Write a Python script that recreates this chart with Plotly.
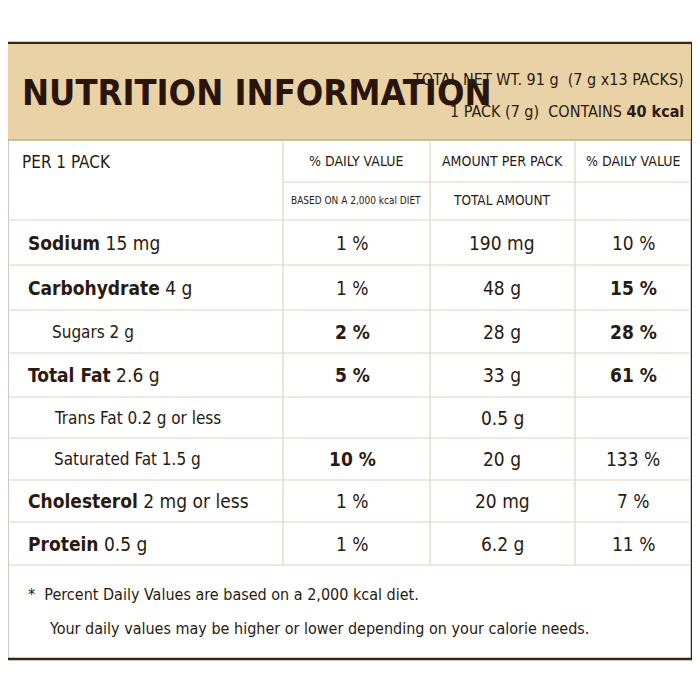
import plotly.graph_objects as go

nutrients = ["Sodium", "Carbohydrate", "Sugars", "Total Fat", "Trans Fat", "Saturated Fat", "Cholesterol", "Protein"]
per_pack = ["15 mg", "4 g", "2 g", "2.6 g", "0.2 g or less", "1.5 g", "2 mg or less", "0.5 g"]
is_main = [True, True, False, True, False, False, True, True]
dv_pack = ["1 %", "1 %", "2 %", "5 %", "", "10 %", "1 %", "1 %"]
total_amount = ["190 mg", "48 g", "28 g", "33 g", "0.5 g", "20 g", "20 mg", "6.2 g"]
dv_total = ["10 %", "15 %", "28 %", "61 %", "", "133 %", "7 %", "11 %"]
dv_pack_bold = [False, False, True, True, False, True, False, False]
dv_total_bold = [False, True, True, True, False, False, False, False]

FONT = "DejaVu Sans Condensed, Liberation Sans Narrow, sans-serif"
DARK = "#2a1a10"
LINE = "#e3d3bc"
BORDER = "#3b2414"

fig = go.Figure()
shapes = []
ann = []

def A(x, y, t, size, xanchor="center", bold=False, color=DARK):
    if bold:
        t = "<b>" + t + "</b>"
    ann.append(dict(x=x, y=y, text=t, showarrow=False, xanchor=xanchor, yanchor="middle",
                    font=dict(family=FONT, size=size, color=color)))

shapes.append(dict(type="rect", x0=7, x1=692, y0=43, y1=659, line=dict(color=BORDER, width=2.5), fillcolor="white", layer="below"))
shapes.append(dict(type="rect", x0=8, x1=691, y0=44, y1=140, line=dict(width=0), fillcolor="#e9d3a6", layer="below"))
shapes.append(dict(type="line", x0=8, x1=691, y0=140, y1=140, line=dict(color="#c9a878", width=1.5)))
A(20, 92, "NUTRITION INFORMATION", 36, "left", True, "#2b140a")
A(686, 79, "TOTAL NET WT. 91 g  (7 g x13 PACKS)", 16, "right")
A(686, 111, "1 PACK (7 g)  CONTAINS <b>40 kcal</b>", 16, "right")

cols = [283, 430, 575]
row_tops = [220, 265, 310, 353, 397, 438, 480, 522, 565]
for c in cols:
    shapes.append(dict(type="line", x0=c, x1=c, y0=140, y1=565, line=dict(color=LINE, width=1.2)))
shapes.append(dict(type="line", x0=283, x1=691, y0=182, y1=182, line=dict(color=LINE, width=1.2)))
for y in row_tops:
    shapes.append(dict(type="line", x0=8, x1=691, y0=y, y1=y, line=dict(color=LINE, width=1.2)))

A(20, 162, "PER 1 PACK", 17, "left")
A(356, 161, "% DAILY VALUE", 14)
A(356, 200, "BASED ON A 2,000 kcal DIET", 10)
A(502, 161, "AMOUNT PER PACK", 14)
A(502, 200, "TOTAL AMOUNT", 13.5)
A(633, 161, "% DAILY VALUE", 14)

for i, n in enumerate(nutrients):
    yc = (row_tops[i] + row_tops[i + 1]) / 2
    if is_main[i]:
        A(26, yc, "<b>" + n + "</b> " + per_pack[i], 19, "left")
    else:
        A(50 if n == "Sugars" else 52, yc, n + " " + per_pack[i], 17, "left")
    A(352, yc, dv_pack[i], 19, bold=dv_pack_bold[i])
    A(502, yc, total_amount[i], 19)
    A(633, yc, dv_total[i], 19, bold=dv_total_bold[i])

A(26, 594, "*  Percent Daily Values are based on a 2,000 kcal diet.", 16, "left")
A(47, 628, "Your daily values may be higher or lower depending on your calorie needs.", 16, "left")

# page body has an 8px margin, so draw a 684px figure offset by 8px
fig.update_layout(width=684, height=684, margin=dict(l=0, r=0, t=0, b=0),
                  paper_bgcolor="white", plot_bgcolor="white",
                  xaxis=dict(range=[8, 692], visible=False, fixedrange=True),
                  yaxis=dict(range=[692, 8], visible=False, fixedrange=True),
                  shapes=shapes, annotations=ann, showlegend=False)
fig.write_html("out.html")
